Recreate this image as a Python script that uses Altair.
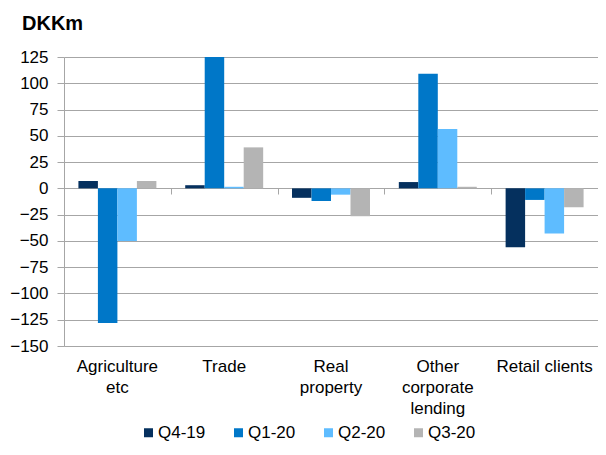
import altair as alt
import pandas as pd

categories = ["Agriculture|etc", "Trade", "Real|property", "Other|corporate|lending", "Retail clients"]
series = ["Q4-19", "Q1-20", "Q2-20", "Q3-20"]
q4_19 = [7, 3, -9, 6, -56]
q1_20 = [-128, 125, -12, 109, -11]
q2_20 = [-50, 1.5, -6, 56.5, -43]
q3_20 = [7, 39, -26.5, 1.5, -18]
colors = ["#05305E", "#0077C8", "#5EBCFF", "#B4B4B4"]
y_ticks = [-150, -125, -100, -75, -50, -25, 0, 25, 50, 75, 100, 125]

rows = []
for s, vals in zip(series, [q4_19, q1_20, q2_20, q3_20]):
    for c, v in zip(categories, vals):
        rows.append({"cat": c, "series": s, "value": v})
df = pd.DataFrame(rows)

GRAY = "#A6A6A6"
FONT = "Liberation Sans"

y_axis = alt.Axis(
    values=y_ticks, title=None, domainColor=GRAY, domainWidth=1,
    tickColor=GRAY, tickSize=7, gridColor=GRAY, gridWidth=1,
    labelFontSize=17, labelPadding=9, labelColor="#000000", labelFont=FONT,
    labelOverlap=False, labelFlush=False,
)
y_scale = alt.Scale(domain=[-150, 125], nice=False, zero=False)

base = alt.Chart(df)

bars = base.mark_bar().encode(
    x=alt.X(
        "cat:N",
        sort=categories,
        scale=alt.Scale(paddingInner=0.27, paddingOuter=0.135),
        axis=alt.Axis(
            title=None, labelAngle=0, labelExpr="split(datum.label, '|')",
            ticks=False, domainColor=GRAY, domainWidth=1, labelFontSize=17,
            labelLineHeight=21, labelPadding=12, labelBaseline="top",
            labelLimit=0, labelColor="#000000", labelFont=FONT, grid=False,
        ),
    ),
    xOffset=alt.XOffset("series:N", sort=series, scale=alt.Scale(paddingInner=0, paddingOuter=0)),
    y=alt.Y("value:Q", scale=y_scale, axis=y_axis),
    color=alt.Color(
        "series:N",
        sort=series,
        scale=alt.Scale(domain=series, range=colors),
        legend=alt.Legend(
            title=None, orient="none", legendX=76, legendY=367, direction="horizontal",
            symbolType="square", symbolSize=81, symbolStrokeWidth=0, labelFontSize=17,
            labelFont=FONT, labelColor="#000000", columnPadding=24, labelOffset=1, padding=0,
        ),
    ),
)

tick_layer = base.mark_point(opacity=0).encode(
    x=alt.X(
        "cat:N",
        sort=categories,
        scale=alt.Scale(padding=0),
        axis=alt.Axis(
            orient="bottom", offset=-158, labels=False, title=None, tickBand="extent",
            tickSize=6, tickColor=GRAY, domainColor=GRAY, domainWidth=1, grid=False,
        ),
    ),
    y=alt.Y("value:Q", scale=y_scale, axis=y_axis),
)

chart = (
    alt.layer(bars, tick_layer)
    .resolve_scale(x="independent")
    .resolve_axis(x="independent")
    .properties(
        width=534,
        height=289,
        autosize=alt.AutoSizeParams(type="none"),
        padding={"left": 56, "top": 49, "right": 0, "bottom": 98},
        title=alt.TitleParams(
            "DKKm", anchor="start", frame="group", fontSize=20, fontWeight="bold",
            font=FONT, color="#000000", dx=-42, offset=14,
        ),
    )
    .configure(font=FONT)
    .configure_view(stroke=None)
)

chart.save("out.html", embed_options={"renderer": "svg", "actions": False})
